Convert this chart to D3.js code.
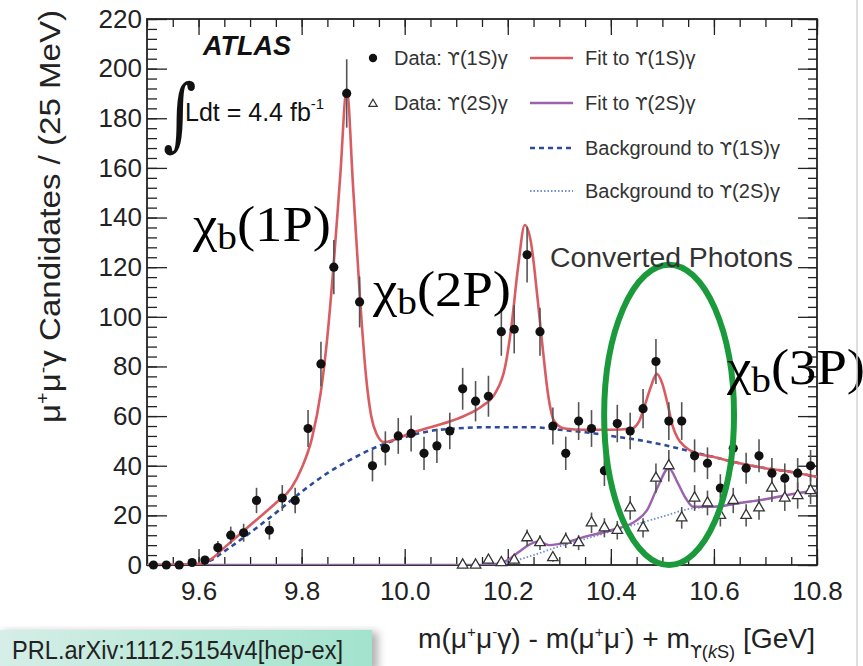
<!DOCTYPE html>
<html>
<head>
<meta charset="utf-8">
<script src="https://cdn.jsdelivr.net/npm/d3@7"></script>
<style>
html, body { margin: 0; padding: 0; background: #fff; }
svg { display: block; font-family: "Liberation Sans", Arial, Helvetica, sans-serif; }
.ups { font-family: "DejaVu Sans", sans-serif; }
</style>
</head>
<body>
<div id="chart"></div>
<script>
// 25 MeV bins, centres in GeV
var mass1S = [9.5125, 9.5375, 9.5625, 9.5875, 9.6125, 9.6375, 9.6625, 9.6875, 9.7125, 9.7375,
              9.7625, 9.7875, 9.8125, 9.8375, 9.8625, 9.8875, 9.9125, 9.9375, 9.9625, 9.9875,
              10.0125, 10.0375, 10.0625, 10.0875, 10.1125, 10.1375, 10.1625, 10.1875, 10.2125, 10.2375,
              10.2625, 10.2875, 10.3125, 10.3375, 10.3625, 10.3875, 10.4125, 10.4375, 10.4625, 10.4875,
              10.5125, 10.5375, 10.5625, 10.5875, 10.6125, 10.6375, 10.6625, 10.6875, 10.7125, 10.7375,
              10.7625, 10.7875];
var counts1S = [0, 0, 0, 1, 2, 7, 12, 13, 26, 14,
                27, 26, 55, 81, 120, 190, 106, 40, 47, 52,
                53, 45, 48, 54, 71, 66, 68, 94, 95, 125,
                94, 56, 45, 58, 55, 38, 57, 54, 63, 82,
                58, 58, 44, 41, 31, 47, 39, 44, 37, 35,
                37, 40];

var mass2S = [10.1125, 10.1375, 10.1625, 10.1875, 10.2125, 10.2375, 10.2625, 10.2875, 10.3125, 10.3375,
              10.3625, 10.3875, 10.4125, 10.4375, 10.4625, 10.4875, 10.5125, 10.5375, 10.5625, 10.5875,
              10.6125, 10.6375, 10.6625, 10.6875, 10.7125, 10.7375, 10.7625, 10.7875];
var counts2S = [0, 0, 2, 1, 2, 11, 9, 3, 10, 9,
                17, 15, 14, 23, 15, 35, 40, 19, 27, 25,
                20, 26, 20, 23, 31, 27, 28, 30];

// fitted curves as [mass, candidates]
var fit1S = [[9.5, 0], [9.6, 0.5], [9.625, 2.5], [9.65, 7], [9.7, 16], [9.75, 25], [9.78, 31],
             [9.8, 39], [9.82, 51], [9.8375, 70], [9.85, 92], [9.8625, 122], [9.875, 157], [9.8875, 192],
             [9.9, 152], [9.9125, 110], [9.925, 76], [9.935, 60], [9.945, 53], [9.96, 49.5], [9.98, 50.5],
             [10.01, 53], [10.05, 55.5], [10.09, 58], [10.12, 60.5], [10.15, 64], [10.175, 69], [10.195, 80],
             [10.207, 96], [10.22, 120], [10.233, 137], [10.245, 130], [10.258, 107], [10.268, 87],
             [10.278, 69], [10.29, 58], [10.31, 55], [10.35, 54.5], [10.4, 54.5], [10.44, 55],
             [10.455, 58], [10.467, 65], [10.478, 72], [10.489, 77], [10.5, 73], [10.51, 65], [10.52, 56],
             [10.53, 51], [10.545, 47.5], [10.56, 45.5], [10.6, 43.5], [10.65, 41], [10.7, 39],
             [10.75, 37.5], [10.8, 35.5]];
var bg1S = [[9.5, 0], [9.6, 0], [9.625, 2], [9.65, 5.5], [9.7, 13], [9.75, 21], [9.8, 29.5],
            [9.85, 37], [9.9, 43], [9.95, 48], [10.0, 51.5], [10.05, 54], [10.1, 55], [10.15, 55.5],
            [10.2, 55.5], [10.25, 55.5], [10.3, 54.5], [10.35, 53.5], [10.4, 52], [10.45, 50.5],
            [10.5, 48.5], [10.55, 46], [10.6, 43.5], [10.65, 41], [10.7, 39], [10.75, 37.5], [10.8, 35.5]];
var fit2S = [[9.5, 0], [10.15, 0], [10.18, 0.5], [10.2, 2], [10.22, 5], [10.24, 8], [10.26, 9.5],
             [10.28, 8], [10.3, 8.5], [10.35, 11.4], [10.4, 14], [10.45, 18], [10.47, 22], [10.49, 31],
             [10.5125, 39], [10.53, 33], [10.545, 27], [10.56, 23.5], [10.6, 23.5], [10.65, 25],
             [10.7, 26.5], [10.75, 28.5], [10.8, 30]];
var bg2S = [[10.15, 0], [10.2, 1], [10.25, 4], [10.3, 7.5], [10.35, 10.5], [10.4, 13.5], [10.45, 16.5],
            [10.5, 19.5], [10.55, 22.5], [10.6, 23.5], [10.65, 25], [10.7, 26.5], [10.75, 28.5], [10.8, 30]];

var xTickValues = [9.6, 9.8, 10.0, 10.2, 10.4, 10.6, 10.8];
var yTickValues = [0, 20, 40, 60, 80, 100, 120, 140, 160, 180, 200, 220];

// legend labels: [before upsilon, state]
var legendData = [['Data: ', '(1S)\u03B3'], ['Data: ', '(2S)\u03B3']];
var legendFits = [['Fit to ', '(1S)\u03B3'], ['Fit to ', '(2S)\u03B3'],
                  ['Background to ', '(1S)\u03B3'], ['Background to ', '(2S)\u03B3']];

// ellipse round the converted-photon chi_b(3P) peak, in data units
var ellipse3P = { m: 10.513, v: 60.5, dm: 0.126, dv: 60.5 };

var CHART = CHART || {};
CHART.upsPlot = function (options) {

    var defaultVal = {
        width: 863,
        height: 666,
        margin: { top: 19, right: 46, bottom: 101, left: 147 },
        xDomain: [9.5, 10.8],
        yDomain: [0, 220],
        red: '#d95c62',
        purple: '#9b62ad',
        blue: '#2c4b9c',
        lightBlue: '#6f8fd0',
        ink: '#222'
    };

    function UpsPlot(options) {
        this.element = options.element;
        this.settings = Object.assign({}, defaultVal, options);
    }

    UpsPlot.prototype = {
        init: function () {
            this._initChart();
            this._drawAxes();
            this._drawCurves();
            this._drawPoints();
            this._drawLegend();
            this._drawLabels();
        },
        _initChart: function () {
            var s = this.settings;
            this.w = s.width - s.margin.left - s.margin.right;
            this.h = s.height - s.margin.top - s.margin.bottom;

            this.svg = d3.select(this.element).append('svg')
                .attr('width', s.width)
                .attr('height', s.height);

            var defs = this.svg.append('defs');
            defs.append('clipPath').attr('id', 'plotClip')
                .append('rect').attr('width', this.w).attr('height', this.h);
            var grad = defs.append('linearGradient').attr('id', 'refGrad');
            grad.append('stop').attr('offset', '0%').attr('stop-color', '#d6eee7');
            grad.append('stop').attr('offset', '100%').attr('stop-color', '#a2e3cd');
            var f = defs.append('filter').attr('id', 'shadow').attr('x', '-10%').attr('width', '130%');
            f.append('feDropShadow').attr('dx', 6).attr('dy', 2).attr('stdDeviation', 4)
                .attr('flood-color', '#000').attr('flood-opacity', 0.3);

            this.xScale = d3.scaleLinear().domain(s.xDomain).range([0, this.w]);
            this.yScale = d3.scaleLinear().domain(s.yDomain).range([this.h, 0]);

            this.chart = this.svg.append('g')
                .attr('transform', 'translate(' + s.margin.left + ',' + s.margin.top + ')');
        },
        _drawAxes: function () {
            var s = this.settings;
            var x = this.xScale, y = this.yScale;
            var xMinor = x.ticks(26);
            var yMinor = d3.range(0, 221, 4);

            function style(g) {
                g.select('.domain').remove();
                g.selectAll('.tick line').attr('stroke', s.ink).attr('stroke-width', 1.3);
                g.selectAll('.tick text').attr('fill', s.ink).attr('font-size', 26)
                    .attr('font-family', '"Liberation Sans", Arial, sans-serif');
            }

            // bottom
            this.chart.append('g').attr('transform', 'translate(0,' + this.h + ')')
                .call(d3.axisBottom(x).tickValues(xMinor).tickSize(-8).tickFormat(''))
                .call(style);
            this.chart.append('g').attr('transform', 'translate(0,' + this.h + ')')
                .call(d3.axisBottom(x).tickValues(xTickValues).tickSize(-16).tickPadding(10)
                    .tickFormat(d3.format('.1f')))
                .call(style)
                .selectAll('.tick text').attr('dy', '0.95em');
            // top
            this.chart.append('g')
                .call(d3.axisTop(x).tickValues(xMinor).tickSize(-8).tickFormat(''))
                .call(style);
            this.chart.append('g')
                .call(d3.axisTop(x).tickValues(xTickValues).tickSize(-16).tickFormat(''))
                .call(style);
            // left
            this.chart.append('g')
                .call(d3.axisLeft(y).tickValues(yMinor).tickSize(-10).tickFormat(''))
                .call(style);
            this.chart.append('g')
                .call(d3.axisLeft(y).tickValues(yTickValues).tickSize(-20).tickPadding(5))
                .call(style);
            // right
            this.chart.append('g').attr('transform', 'translate(' + this.w + ',0)')
                .call(d3.axisRight(y).tickValues(yMinor).tickSize(-9).tickFormat(''))
                .call(style);
            this.chart.append('g').attr('transform', 'translate(' + this.w + ',0)')
                .call(d3.axisRight(y).tickValues(yTickValues).tickSize(-19).tickFormat(''))
                .call(style);

            this.chart.append('rect').attr('class', 'frame')
                .attr('width', this.w).attr('height', this.h)
                .attr('fill', 'none').attr('stroke', s.ink).attr('stroke-width', 1.8);
        },
        _drawCurves: function () {
            var s = this.settings, x = this.xScale, y = this.yScale;
            var line = d3.line()
                .x(function (d) { return x(d[0]); })
                .y(function (d) { return y(d[1]); })
                .curve(d3.curveMonotoneX);
            var g = this.chart.append('g').attr('clip-path', 'url(#plotClip)');

            g.append('path').datum(bg2S).attr('d', line).attr('fill', 'none')
                .attr('stroke', s.lightBlue).attr('stroke-width', 1.8).attr('stroke-dasharray', '1.5,2');
            g.append('path').datum(fit2S).attr('d', line).attr('fill', 'none')
                .attr('stroke', s.purple).attr('stroke-width', 2.4);
            g.append('path').datum(bg1S).attr('d', line).attr('fill', 'none')
                .attr('stroke', s.blue).attr('stroke-width', 2.6).attr('stroke-dasharray', '5,4');
            g.append('path').datum(fit1S).attr('d', line).attr('fill', 'none')
                .attr('stroke', s.red).attr('stroke-width', 2.6);
        },
        _drawPoints: function () {
            var x = this.xScale, y = this.yScale;
            var set1 = mass1S.map(function (m, i) { return { m: m, v: counts1S[i] }; });
            var set2 = mass2S.map(function (m, i) { return { m: m, v: counts2S[i] }; });
            var g = this.chart.append('g').attr('class', 'dotArea');

            function bars(data) {
                g.selectAll(null).data(data.filter(function (d) { return d.v > 0; }))
                    .enter().append('line')
                    .attr('x1', function (d) { return x(d.m); })
                    .attr('x2', function (d) { return x(d.m); })
                    .attr('y1', function (d) { return y(d.v - Math.sqrt(d.v)); })
                    .attr('y2', function (d) { return y(d.v + Math.sqrt(d.v)); })
                    .attr('stroke', '#555').attr('stroke-width', 1.6);
            }
            bars(set2);
            bars(set1);

            g.selectAll('.tri').data(set2).enter().append('path').attr('class', 'tri')
                .attr('d', d3.symbol(d3.symbolTriangle).size(48))
                .attr('transform', function (d) { return 'translate(' + x(d.m) + ',' + y(d.v) + ')'; })
                .attr('fill', '#fff').attr('stroke', '#333').attr('stroke-width', 1.3);

            g.selectAll('.dot').data(set1).enter().append('circle').attr('class', 'dot')
                .attr('cx', function (d) { return x(d.m); })
                .attr('cy', function (d) { return y(d.v); })
                .attr('r', 4.6).attr('fill', '#111');

            // converted photons ellipse
            this.chart.append('ellipse')
                .attr('cx', x(ellipse3P.m)).attr('cy', y(ellipse3P.v))
                .attr('rx', x(ellipse3P.m + ellipse3P.dm) - x(ellipse3P.m))
                .attr('ry', y(ellipse3P.v - ellipse3P.dv) - y(ellipse3P.v))
                .attr('fill', 'none').attr('stroke', '#1b9a3c').attr('stroke-width', 6);
        },
        _drawLegend: function () {
            var s = this.settings;
            var rows = [58, 103, 148, 191];
            var leg = this.svg.append('g').attr('font-size', 20).attr('fill', '#333');

            function label(sel) {
                sel.append('tspan').text(function (d) { return d[0]; });
                sel.append('tspan').attr('class', 'ups').attr('font-size', 18).text('\u03D2');
                sel.append('tspan').text(function (d) { return d[1]; });
            }

            leg.append('circle').attr('cx', 373).attr('cy', rows[0]).attr('r', 4.2).attr('fill', '#111');
            leg.append('path').attr('d', d3.symbol(d3.symbolTriangle).size(30))
                .attr('transform', 'translate(373,' + (rows[1] + 1) + ')')
                .attr('fill', '#fff').attr('stroke', '#333').attr('stroke-width', 1.2);
            leg.selectAll('.ltxt').data(legendData).enter().append('text').attr('class', 'ltxt')
                .attr('x', 394).attr('y', function (d, i) { return rows[i] + 7; })
                .call(label);

            var styles = [
                { c: s.red, w: 2.6, dash: null },
                { c: s.purple, w: 2.4, dash: null },
                { c: s.blue, w: 2.6, dash: '5,4' },
                { c: s.lightBlue, w: 1.8, dash: '1.5,2' }
            ];
            leg.selectAll('.lline').data(styles).enter().append('line').attr('class', 'lline')
                .attr('x1', 530).attr('x2', 573)
                .attr('y1', function (d, i) { return rows[i]; })
                .attr('y2', function (d, i) { return rows[i]; })
                .attr('stroke', function (d) { return d.c; })
                .attr('stroke-width', function (d) { return d.w; })
                .attr('stroke-dasharray', function (d) { return d.dash; });
            leg.selectAll('.ftxt').data(legendFits).enter().append('text').attr('class', 'ftxt')
                .attr('x', 585).attr('y', function (d, i) { return rows[i] + 7; })
                .call(label);
        },
        _drawLabels: function () {
            var svg = this.svg, s = this.settings;

            svg.append('text').attr('x', 203).attr('y', 55)
                .attr('font-size', 27).attr('font-weight', 'bold').attr('font-style', 'italic')
                .attr('fill', '#111').text('ATLAS');

            svg.append('text').attr('transform', 'translate(163,141) scale(0.8,1)')
                .attr('font-size', 80).attr('font-family', '"DejaVu Serif", serif')
                .attr('fill', '#111').text('\u222B');
            var lum = svg.append('text').attr('x', 185).attr('y', 121)
                .attr('font-size', 25).attr('fill', '#111');
            lum.append('tspan').text('Ldt = 4.4 fb');
            lum.append('tspan').attr('dy', -12).attr('font-size', 15).text('-1');

            svg.append('text').attr('x', 550).attr('y', 267)
                .attr('font-size', 27).attr('fill', '#333')
                .attr('textLength', 243).attr('lengthAdjust', 'spacingAndGlyphs')
                .text('Converted Photons');

            var peaks = [
                { x: 193, y: 241, t: '1P' },
                { x: 373, y: 306, t: '2P' },
                { x: 727, y: 384, t: '3P' }
            ];
            var pk = svg.selectAll('.peak').data(peaks).enter().append('text').attr('class', 'peak')
                .attr('x', function (d) { return d.x; })
                .attr('y', function (d) { return d.y; })
                .attr('font-family', '"Liberation Serif", "Times New Roman", serif')
                .attr('font-size', 50).attr('fill', '#000')
                .attr('textLength', 138).attr('lengthAdjust', 'spacingAndGlyphs');
            pk.append('tspan').text('\u03C7');
            pk.append('tspan').attr('font-size', 36).attr('dy', 8).text('b');
            pk.append('tspan').attr('dy', -8).text(function (d) { return '(' + d.t + ')'; });

            // y title
            var yt = svg.append('text')
                .attr('transform', 'translate(60,10) rotate(-90)')
                .attr('text-anchor', 'end').attr('font-size', 30).attr('fill', s.ink)
                .attr('textLength', 413).attr('lengthAdjust', 'spacingAndGlyphs');
            yt.append('tspan').text('\u03BC');
            yt.append('tspan').attr('dy', -11).attr('font-size', 18).text('+');
            yt.append('tspan').attr('dy', 11).text('\u03BC');
            yt.append('tspan').attr('dy', -11).attr('font-size', 18).text('-');
            yt.append('tspan').attr('dy', 11).text('\u03B3 Candidates / (25 MeV)');

            // x title
            var xt = svg.append('text').attr('x', 418).attr('y', 648)
                .attr('font-size', 28).attr('fill', s.ink)
                .attr('textLength', 397).attr('lengthAdjust', 'spacingAndGlyphs');
            xt.append('tspan').text('m(\u03BC');
            xt.append('tspan').attr('dy', -11).attr('font-size', 15).text('+');
            xt.append('tspan').attr('dy', 11).text('\u03BC');
            xt.append('tspan').attr('dy', -11).attr('font-size', 15).text('-');
            xt.append('tspan').attr('dy', 11).text('\u03B3) - m(\u03BC');
            xt.append('tspan').attr('dy', -11).attr('font-size', 15).text('+');
            xt.append('tspan').attr('dy', 11).text('\u03BC');
            xt.append('tspan').attr('dy', -11).attr('font-size', 15).text('-');
            xt.append('tspan').attr('dy', 11).text(') + m');
            xt.append('tspan').attr('dy', 10).attr('font-size', 17).attr('class', 'ups').text('\u03D2');
            xt.append('tspan').attr('font-size', 18).text('(');
            xt.append('tspan').attr('font-size', 18).attr('font-style', 'italic').text('k');
            xt.append('tspan').attr('font-size', 18).text('S)');
            xt.append('tspan').attr('dy', -10).text(' [GeV]');

            // reference box
            svg.append('rect').attr('x', -4).attr('y', 630).attr('width', 376).attr('height', 40)
                .attr('fill', 'url(#refGrad)').attr('filter', 'url(#shadow)');
            svg.append('text').attr('x', 12).attr('y', 659)
                .attr('font-size', 26).attr('fill', '#222')
                .attr('textLength', 331).attr('lengthAdjust', 'spacingAndGlyphs')
                .text('PRL.arXiv:1112.5154v4[hep-ex]');

            svg.append('line').attr('x1', 857).attr('x2', 857).attr('y1', 0).attr('y2', s.height)
                .attr('stroke', '#d4d4d4').attr('stroke-width', 1.5);
        }
    };

    var plot = new UpsPlot(options);
    plot.init();
    return { options: plot.settings };
};

CHART.upsPlot({ element: '#chart' });
</script>
</body>
</html>
